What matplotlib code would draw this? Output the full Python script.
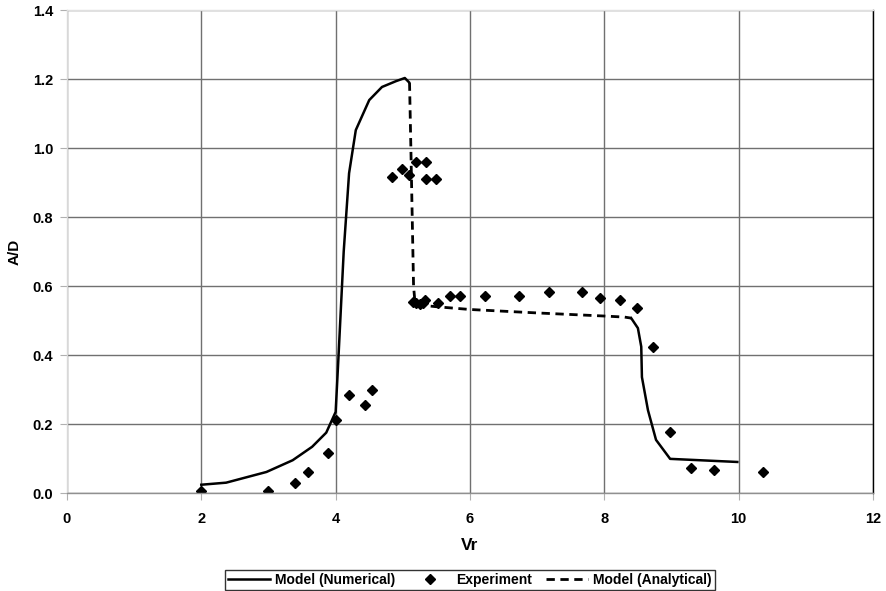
import matplotlib
matplotlib.use("Agg")
import numpy as np
import matplotlib.pyplot as plt

plt.rcParams['font.family'] = ['Liberation Sans', 'DejaVu Sans']

# Model (Numerical) - two segments separated by a gap (NaN)
num_vr = [2.0, 2.37, 2.97, 3.36, 3.65, 3.86, 4.0, 4.04, 4.12, 4.2, 4.3, 4.5, 4.69, 4.9, 5.03, 5.09,
          np.nan,
          8.40, 8.50, 8.55, 8.56, 8.65, 8.77, 8.98, 9.98]
num_ad = [0.024, 0.03, 0.061, 0.095, 0.134, 0.175, 0.235, 0.386, 0.70, 0.927, 1.052, 1.139, 1.177, 1.194, 1.203, 1.191,
          np.nan,
          0.507, 0.478, 0.424, 0.336, 0.24, 0.154, 0.099, 0.09]

# Experiment
exp_vr = [2.0, 3.0, 3.40, 3.59, 3.89, 4.0, 4.2, 4.44, 4.54,
          4.84, 4.99, 5.09, 5.19, 5.34, 5.34, 5.49,
          5.15, 5.2, 5.25, 5.3, 5.33, 5.53, 5.70, 5.85, 6.23, 6.73, 7.18,
          7.67, 7.93, 8.23, 8.49, 8.73, 8.98, 9.29, 9.63, 10.37]
exp_ad = [0.005, 0.005, 0.03, 0.06, 0.116, 0.212, 0.284, 0.255, 0.299,
          0.916, 0.939, 0.922, 0.959, 0.959, 0.910, 0.910,
          0.553, 0.55, 0.548, 0.552, 0.56, 0.55, 0.571, 0.571, 0.571, 0.571, 0.583,
          0.583, 0.566, 0.56, 0.537, 0.424, 0.178, 0.073, 0.067, 0.062]

# Model (Analytical)
ana_vr = [5.10, 5.12, 5.14, 5.16, 5.18, 5.25, 5.5, 6.0, 7.0, 8.0, 8.3, 8.4]
ana_ad = [1.19, 1.0, 0.8, 0.6, 0.555, 0.545, 0.54, 0.532, 0.522, 0.513, 0.51, 0.507]

fig = plt.figure(figsize=(8.86, 5.91), dpi=100)
ax = fig.add_axes([0.0756, 0.1658, 0.9097, 0.8172])

ax.plot(num_vr, num_ad, color='black', linewidth=1.8, label='Model (Numerical)')
ax.plot(exp_vr, exp_ad, linestyle='none', marker='D', markersize=5, color='black', label='Experiment')
ax.plot(ana_vr, ana_ad, color='black', linewidth=2.0, linestyle=(0, (3, 2)), label='Model (Analytical)')

ax.set_xlim(0, 12)
ax.set_ylim(0, 1.4)
ax.set_xticks(np.arange(0, 13, 2))
ax.set_yticks(np.arange(0, 1.41, 0.2))
ax.set_yticklabels([f"{v:.1f}" for v in np.arange(0, 1.41, 0.2)])
ax.grid(True, color='#707070', linewidth=1.0)
ax.set_axisbelow(True)

for side, col in [('top', '#e0e0e0'), ('left', '#d8d8d8'), ('bottom', '#909090'), ('right', 'black')]:
    ax.spines[side].set_color(col)
    ax.spines[side].set_linewidth(1.0)

ax.tick_params(axis='both', length=5, color='#b0b0b0', labelsize=10.5)
ax.tick_params(axis='x', pad=9)
ax.tick_params(axis='y', pad=5)
for lbl in ax.get_xticklabels() + ax.get_yticklabels():
    lbl.set_fontweight('bold')

ax.set_xlabel('Vr', fontsize=12.5, fontweight='bold', labelpad=8)
ax.set_ylabel('A/D', fontsize=11, fontweight='bold', labelpad=8)

leg = ax.legend(loc='upper center', bbox_to_anchor=(0.5, -0.145), ncol=3, frameon=True,
                fancybox=False, edgecolor='black', prop={'weight': 'bold', 'size': 10},
                handlelength=3.0, handletextpad=0.4, columnspacing=1.0, borderpad=0.2)
leg.get_frame().set_linewidth(1.0)

fig.savefig('out.png', dpi=100)
